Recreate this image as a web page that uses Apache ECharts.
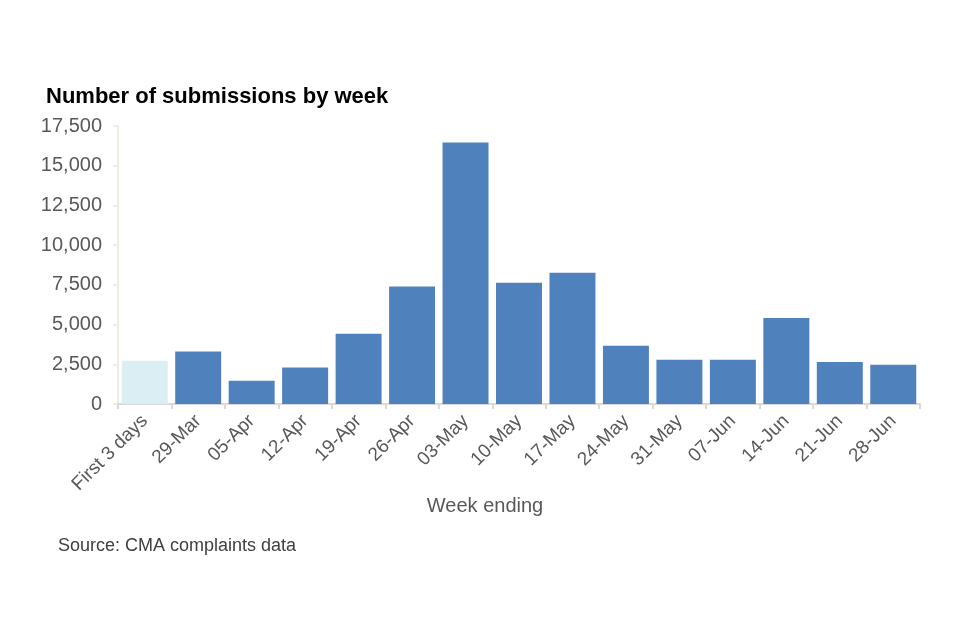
<!DOCTYPE html>
<html>
<head>
<meta charset="utf-8">
<script src="https://cdn.jsdelivr.net/npm/echarts@6/dist/echarts.min.js"></script>
<style>html,body{margin:0;padding:0;background:#fff;}#c{width:960px;height:640px;}</style>
</head>
<body>
<div id="c"></div>
<script>
const categories = ['First 3 days','29-Mar','05-Apr','12-Apr','19-Apr','26-Apr','03-May','10-May','17-May','24-May','31-May','07-Jun','14-Jun','21-Jun','28-Jun'];
const submissions = [2730, 3300, 1470, 2290, 4430, 7400, 16460, 7630, 8260, 3660, 2780, 2780, 5420, 2650, 2470];
const yTicks = [0, 2500, 5000, 7500, 10000, 12500, 15000, 17500];

const font = 'Arial, "Liberation Sans", sans-serif';
const chart = echarts.init(document.getElementById('c'));
chart.setOption({
  animation: false,
  backgroundColor: '#fff',
  title: {
    text: 'Number of submissions by week',
    left: 41, top: 81,
    textStyle: { fontFamily: font, fontSize: 22, fontWeight: 'bold', color: '#000' }
  },
  grid: { left: 118, right: 40, top: 126, bottom: 236 },
  xAxis: {
    type: 'category',
    data: categories,
    axisLine: { lineStyle: { color: '#d9d9d9', width: 2 } },
    axisTick: { show: true, alignWithLabel: false, length: 5, lineStyle: { color: '#d9d9d9', width: 2 } },
    axisLabel: { rotate: 45, interval: 0, fontFamily: font, fontSize: 19, color: '#595959', margin: 14 }
  },
  yAxis: {
    type: 'value',
    min: yTicks[0], max: yTicks[yTicks.length - 1], interval: 2500,
    splitLine: { show: false },
    axisLine: { show: true, lineStyle: { color: '#f0ede3', width: 2 } },
    axisTick: { show: true, length: 5, lineStyle: { color: '#f0ede3', width: 2 } },
    axisLabel: {
      fontFamily: font, fontSize: 20, color: '#595959', margin: 16,
      formatter: v => v.toLocaleString('en-GB')
    }
  },
  series: [{
    type: 'bar',
    barCategoryGap: '14%',
    data: submissions.map((v, i) => i === 0 ? { value: v, itemStyle: { color: '#dbeef4' } } : v),
    itemStyle: { color: '#4f81bd' }
  }],
  graphic: [
    { type: 'text', x: 485, y: 506, style: { text: 'Week ending', font: '20px ' + font, fill: '#595959', textAlign: 'center', textVerticalAlign: 'middle' } },
    { type: 'text', x: 58, y: 546, style: { text: 'Source: CMA complaints data', font: '18px ' + font, fill: '#404040', textAlign: 'left', textVerticalAlign: 'middle' } }
  ]
});
</script>
</body>
</html>
